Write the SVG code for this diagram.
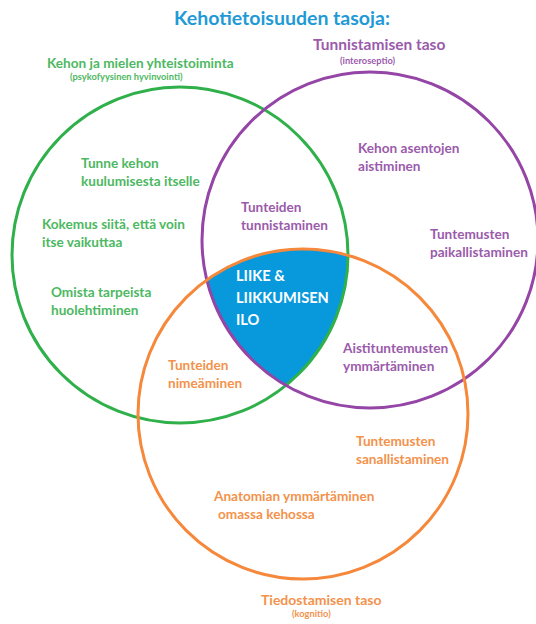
<svg xmlns="http://www.w3.org/2000/svg" width="536" height="624" viewBox="0 0 536 624">
<style>
text{font-family:Lato,"Open Sans","DejaVu Sans",sans-serif;font-weight:bold;font-size:13.6px}
.g{fill:#4db862}
.p{fill:#9b5bab}
.o{fill:#f3924c}
.w{fill:#ffffff;font-size:14.6px}
.s{font-size:9.3px}
.ring{fill:none;stroke-width:3}
</style>
<rect width="536" height="624" fill="#ffffff"/>
<g id="core">
<path d="M206.9,280 A165,165 0 0 1 348,255.3 A168,168 0 0 1 285.9,385.5 A168,168 0 0 1 206.9,280 Z" fill="#0898dc"/>
</g>
<g id="circles">
<circle id="green-circle" class="ring" cx="180" cy="255" r="168" stroke="#2fb04a"/>
<circle id="purple-circle" class="ring" cx="370" cy="240" r="168" stroke="#9545a6"/>
<circle id="orange-circle" class="ring" cx="303" cy="414" r="165" stroke="#f5883a"/>
</g>
<g id="title"><text x="282" y="25" text-anchor="middle" style="font-size:19.5px;fill:#1f9ad6">Kehotietoisuuden tasoja:</text></g>
<g id="green-label">
<text class="g" x="47" y="68">Kehon ja mielen yhteistoiminta</text>
<text class="g s" x="70" y="80">(psykofyysinen hyvinvointi)</text>
</g>
<g id="purple-label">
<text class="p" x="313" y="50" style="font-size:15.5px">Tunnistamisen taso</text>
<text class="p s" x="340" y="64">(interoseptio)</text>
</g>
<g id="orange-label">
<text class="o" x="261" y="605" style="font-size:14px">Tiedostamisen taso</text>
<text class="o s" x="292" y="617">(kognitio)</text>
</g>
<g id="green-items">
<text class="g" x="81" y="168">Tunne kehon</text>
<text class="g" x="81" y="186">kuulumisesta itselle</text>
<text class="g" x="42" y="229">Kokemus siitä, että voin</text>
<text class="g" x="42" y="247">itse vaikuttaa</text>
<text class="g" x="51" y="297">Omista tarpeista</text>
<text class="g" x="51" y="315">huolehtiminen</text>
</g>
<g id="purple-items">
<text class="p" x="358" y="153">Kehon asentojen</text>
<text class="p" x="358" y="171">aistiminen</text>
<text class="p" x="430" y="239">Tuntemusten</text>
<text class="p" x="430" y="257">paikallistaminen</text>
<text class="p" x="241" y="212">Tunteiden</text>
<text class="p" x="241" y="230">tunnistaminen</text>
<text class="p" x="343" y="353">Aistituntemusten</text>
<text class="p" x="343" y="371">ymmärtäminen</text>
</g>
<g id="orange-items">
<text class="o" x="168" y="370">Tunteiden</text>
<text class="o" x="168" y="388">nimeäminen</text>
<text class="o" x="356" y="446">Tuntemusten</text>
<text class="o" x="356" y="464">sanallistaminen</text>
<text class="o" x="214" y="501">Anatomian ymmärtäminen</text>
<text class="o" x="218" y="519">omassa kehossa</text>
</g>
<g id="center-label">
<text class="w" x="236" y="281">LIIKE &amp;</text>
<text class="w" x="236" y="303">LIIKKUMISEN</text>
<text class="w" x="236" y="325">ILO</text>
</g>
</svg>
